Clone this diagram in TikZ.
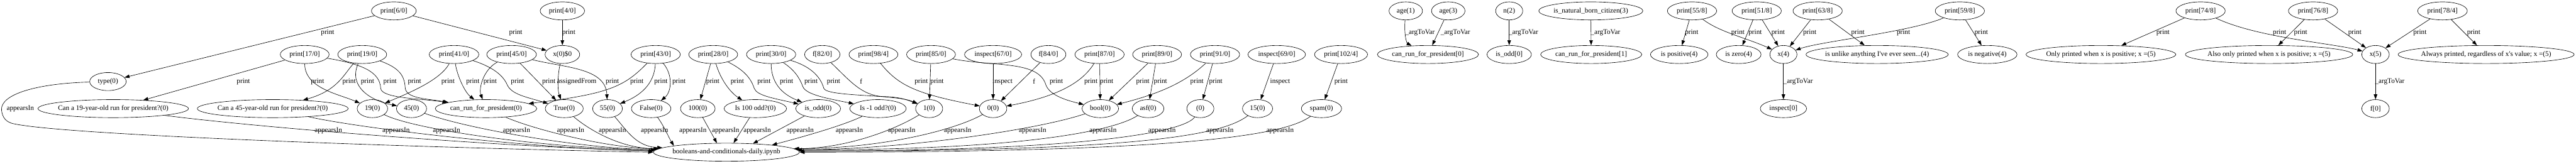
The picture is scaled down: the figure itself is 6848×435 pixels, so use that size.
\documentclass[tikz,border=0pt]{standalone}
\usepackage{fontspec}
\setmainfont{Liberation Serif}
\usetikzlibrary{arrows.meta,shapes.geometric}
\begin{document}
\begin{tikzpicture}[x=0.75pt,y=0.75pt,>={Triangle[length=10pt,width=7pt]},
  nd/.style={draw,ellipse,line width=0.8pt,minimum height=36pt,minimum width=#1*0.75pt,inner xsep=-30pt,inner ysep=0pt,font=\fontsize{14}{16}\selectfont},
  nd/.default=72,
  lb/.style={inner sep=0pt,font=\fontsize{14}{16}\selectfont},
  e/.style={->,line width=0.8pt}]
\useasboundingbox (0,0) rectangle (6848,-435);
%Hang 1
\node[nd=119] (p6) at (1047,-29) {print[6/0]};
\node[nd=118] (p4) at (1495,-29) {print[4/0]};
\node[nd=89] (age1) at (3737,-29) {age(1)};
\node[nd=89] (age3) at (3850,-29) {age(3)};
\node[nd] (n2) at (4012,-29) {n(2)};
\node[nd=277] (nbc) at (4229,-29) {is\_natural\_born\_citizen(3)};
\node[nd=131] (p55) at (4498,-29) {print[55/8]};
\node[nd=131] (p51) at (4670,-29) {print[51/8]};
\node[nd=131] (p63) at (4832,-29) {print[63/8]};
\node[nd=131] (p59) at (5210,-29) {print[59/8]};
\node[nd=131] (p74) at (5850,-29) {print[74/8]};
\node[nd=131] (p76) at (6149,-29) {print[76/8]};
\node[nd=132] (p78) at (6493,-29) {print[78/4]};
%Hang 2
\node[nd=130] (p17) at (810,-145) {print[17/0]};
\node[nd=130] (p19) at (963,-145) {print[19/0]};
\node[nd=132] (p41) at (1207,-145) {print[41/0]};
\node[nd=132] (p45) at (1360,-145) {print[45/0]};
\node[nd=92] (x0) at (1495,-145) {x(0)\$0};
\node[nd=131] (p43) at (1743,-145) {print[43/0]};
\node[nd=130] (p28) at (1896,-145) {print[28/0]};
\node[nd=131] (p30) at (2050,-145) {print[30/0]};
\node[nd=94] (f82) at (2186,-145) {f[82/0]};
\node[nd=130] (p98) at (2322,-145) {print[98/4]};
\node[nd=130] (p85) at (2475,-145) {print[85/0]};
\node[nd=152] (i67) at (2640,-145) {inspect[67/0]};
\node[nd=93] (f84) at (2787,-145) {f[84/0]};
\node[nd=131] (p87) at (2923,-145) {print[87/0]};
\node[nd=130] (p89) at (3076,-145) {print[89/0]};
\node[nd=131] (p91) at (3230,-145) {print[91/0]};
\node[nd=153] (i69) at (3394,-145) {inspect[69/0]};
\node[nd=141] (p102) at (3565,-145) {print[102/4]};
\node[nd=269] (crp0) at (3796,-145) {can\_run\_for\_president[0]};
\node[nd=118] (iso0) at (4012,-145) {is\_odd[0]};
\node[nd=269] (crp1) at (4230,-145) {can\_run\_for\_president[1]};
\node[nd=153] (ispos) at (4464,-145) {is positive(4)};
\node[nd=119] (iszero) at (4622,-145) {is zero(4)};
\node[nd] (x4) at (4741,-145) {x(4)};
\node[nd=378] (unlike) at (4990,-145) {is unlike anything I\textquotesingle ve ever seen...(4)};
\node[nd=158] (isneg) at (5283,-145) {is negative(4)};
\node[nd=398] (only) at (5585,-145) {Only printed when x is positive; x =(5)};
\node[nd=445] (also) at (6032,-145) {Also only printed when x is positive; x =(5)};
\node[nd=73] (x5) at (6315,-145) {x(5)};
\node[nd=468] (always) at (6609,-145) {Always printed, regardless of x\textquotesingle s value; x =(5)};
\node[nd=97] (type0) at (287,-217) {type(0)};
%Hang 3
\node[nd=400] (can19) at (301,-289) {Can a 19-year-old run for president?(0)};
\node[nd=401] (can45) at (725,-289) {Can a 45-year-old run for president?(0)};
\node[nd=81] (n19) at (990,-289) {19(0)};
\node[nd=80] (n45) at (1094,-289) {45(0)};
\node[nd=270] (crp) at (1292,-289) {can\_run\_for\_president(0)};
\node[nd=101] (true0) at (1500,-289) {True(0)};
\node[nd=79] (n55) at (1615,-289) {55(0)};
\node[nd=105] (false0) at (1731,-289) {False(0)};
\node[nd=92] (n100) at (1855,-289) {100(0)};
\node[nd=166] (odd100) at (2008,-289) {Is 100 odd?(0)};
\node[nd=119] (isodd) at (2175,-289) {is\_odd(0)};
\node[nd=150] (oddm1) at (2334,-289) {Is -1 odd?(0)};
\node[nd] (n1) at (2470,-289) {1(0)};
\node[nd=73] (n0) at (2640,-289) {0(0)};
\node[nd=97] (bool0) at (2925,-289) {bool(0)};
\node[nd=84] (asf) at (3052,-289) {asf(0)};
\node[nd] (empty) at (3191,-289) {(0)};
\node[nd=80] (n15) at (3343,-289) {15(0)};
\node[nd=107] (spam) at (3513,-289) {spam(0)};
\node[nd=123] (insp0) at (4741,-289) {inspect[0]};
\node[nd=73] (f0) at (6315,-289) {f[0]};
%Hang 4
\node[nd=388] (bools) at (1931,-405) {booleans-and-conditionals-daily.ipynb};
%Mui ten hang 1-2
\draw[e] (p6) -- (type0);
\draw[e] (p6) -- (x0);
\draw[e] (p4) -- (x0);
\draw[e] (age1) .. controls (3732,-95) and (3740,-115) .. (crp0);
\draw[e] (age3) -- (crp0);
\draw[e] (n2) -- (iso0);
\draw[e] (nbc) -- (crp1);
\draw[e] (p55) -- (ispos);
\draw[e] (p55) .. controls (4570,-85) and (4640,-100) .. (x4);
\draw[e] (p51) -- (iszero);
\draw[e] (p51) -- (x4);
\draw[e] (p63) -- (x4);
\draw[e] (p63) -- (unlike);
\draw[e] (p59) .. controls (5080,-85) and (4840,-110) .. (x4);
\draw[e] (p59) -- (isneg);
\draw[e] (p74) -- (only);
\draw[e] (p74) .. controls (6000,-100) and (6200,-115) .. (x5);
\draw[e] (p76) -- (also);
\draw[e] (p76) -- (x5);
\draw[e] (p78) -- (x5);
\draw[e] (p78) -- (always);
%Mui ten hang 2-3
\draw[e] (p17) -- (can19);
\draw[e] (p17) .. controls (810,-235) and (900,-250) .. (n19);
\draw[e] (p17) .. controls (960,-170) and (1010,-190) .. (1012,-235) .. controls (1014,-262) and (1120,-262) .. (crp);
\draw[e] (p19) .. controls (915,-195) and (900,-240) .. (can45);
\draw[e] (p19) .. controls (925,-230) and (985,-268) .. (n45);
\draw[e] (p19) .. controls (1060,-180) and (1075,-200) .. (1077,-232) .. controls (1078,-262) and (1130,-262) .. (crp);
\draw[e] (p41) .. controls (1170,-215) and (1080,-250) .. (n19);
\draw[e] (p41) .. controls (1215,-200) and (1235,-245) .. (crp);
\draw[e] (p41) .. controls (1300,-175) and (1335,-195) .. (1348,-225) .. controls (1360,-252) and (1400,-258) .. (true0);
\draw[e] (p45) .. controls (1285,-185) and (1272,-235) .. (crp);
\draw[e] (p45) -- (true0);
\draw[e] (p45) .. controls (1500,-180) and (1610,-180) .. (n55);
\draw[e] (x0) .. controls (1482,-200) and (1482,-240) .. (true0);
\draw[e] (p43) .. controls (1660,-230) and (1620,-250) .. (crp);
\draw[e] (p43) .. controls (1740,-225) and (1700,-255) .. (n55);
\draw[e] (p43) .. controls (1790,-200) and (1785,-245) .. (false0);
\draw[e] (p28) -- (n100);
\draw[e] (p28) .. controls (1915,-210) and (1940,-245) .. (odd100);
\draw[e] (p28) .. controls (1975,-185) and (1995,-205) .. (2005,-235) .. controls (2012,-255) and (2060,-262) .. (isodd);
\draw[e] (p30) .. controls (2050,-230) and (2090,-255) .. (isodd);
\draw[e] (p30) .. controls (2110,-185) and (2125,-205) .. (2134,-230) .. controls (2142,-252) and (2200,-262) .. (oddm1);
\draw[e] (p30) .. controls (2150,-175) and (2180,-200) .. (2190,-235) .. controls (2198,-258) and (2380,-250) .. (n1);
\draw[e] (f82) .. controls (2260,-215) and (2290,-255) .. (2350,-257) .. controls (2390,-258) and (2410,-265) .. (n1);
\draw[e] (p98) .. controls (2390,-230) and (2440,-250) .. (n0);
\draw[e] (p85) -- (n1);
\draw[e] (p85) .. controls (2640,-178) and (2760,-160) .. (2780,-225) .. controls (2790,-255) and (2840,-268) .. (bool0);
\draw[e] (i67) -- (n0);
\draw[e] (f84) -- (n0);
\draw[e] (p87) .. controls (2880,-215) and (2820,-255) .. (n0);
\draw[e] (p87) -- (bool0);
\draw[e] (p89) -- (bool0);
\draw[e] (p89) -- (asf);
\draw[e] (p91) .. controls (3150,-220) and (3080,-250) .. (bool0);
\draw[e] (p91) -- (empty);
\draw[e] (i69) -- (n15);
\draw[e] (p102) -- (spam);
\draw[e] (x4) -- (insp0);
\draw[e] (x5) -- (f0);
%Mui ten hang 3-4
\draw[e] (type0) .. controls (100,-222) and (2,-250) .. (4,-292) .. controls (6,-312) and (15,-326) .. (40,-330) .. controls (200,-362) and (1200,-395) .. (bools.180);
\draw[e] (can19) .. controls (650,-335) and (1300,-390) .. (bools.179);
\draw[e] (can45) .. controls (950,-340) and (1400,-395) .. (bools.179);
\draw[e] (n19) .. controls (1100,-345) and (1450,-395) .. (bools.178);
\draw[e] (n45) .. controls (1250,-345) and (1550,-395) .. (bools.178);
\draw[e] (crp) .. controls (1420,-345) and (1620,-395) .. (bools.177);
\draw[e] (true0) .. controls (1565,-345) and (1650,-395) .. (bools.177);
\draw[e] (n55) .. controls (1665,-345) and (1690,-390) .. (bools.176);
\draw[e] (false0) .. controls (1765,-335) and (1780,-370) .. (bools.173);
\draw[e] (n100) -- (bools.136);
\draw[e] (odd100) -- (bools.52);
\draw[e] (isodd) -- (bools.18);
\draw[e] (oddm1) .. controls (2240,-335) and (2120,-368) .. (bools.9);
\draw[e] (n1) .. controls (2380,-345) and (2250,-395) .. (bools.3);
\draw[e] (n0) .. controls (2540,-345) and (2350,-395) .. (bools.3);
\draw[e] (bool0) .. controls (2760,-345) and (2400,-398) .. (bools.2);
\draw[e] (asf) .. controls (2960,-350) and (2700,-400) .. (bools.2);
\draw[e] (empty) .. controls (3150,-350) and (2900,-402) .. (bools.1);
\draw[e] (n15) .. controls (3260,-350) and (3100,-404) .. (bools.1);
\draw[e] (spam) .. controls (3420,-355) and (3200,-405) .. (bools.0);
%Nhan hang 1-2
\node[lb] (lp1) at (871,-87) {print};
\node[lb] (lp2) at (1371,-87) {print};
\node[lb] (lp3) at (1512,-87) {print};
\node[lb] (la1) at (3775,-87) {\_argToVar};
\node[lb] (la2) at (3869,-87) {\_argToVar};
\node[lb] (la3) at (4050,-87) {\_argToVar};
\node[lb] (la4) at (4268,-87) {\_argToVar};
\node[lb] (lp4) at (4497,-87) {print};
\node[lb] (lp5) at (4620,-87) {print};
\node[lb] (lp6) at (4666,-87) {print};
\node[lb] (lp7) at (4727,-87) {print};
\node[lb] (lp8) at (4811,-87) {print};
\node[lb] (lp9) at (4939,-87) {print};
\node[lb] (lp10) at (5060,-87) {print};
\node[lb] (lp11) at (5267,-87) {print};
\node[lb] (lp12) at (5750,-87) {print};
\node[lb] (lp13) at (6060,-87) {print};
\node[lb] (lp14) at (6116,-87) {print};
\node[lb] (lp15) at (6260,-87) {print};
\node[lb] (lp16) at (6433,-87) {print};
\node[lb] (lp17) at (6576,-87) {print};
%Nhan hang 2-3
\node[lb] (lq1) at (647,-217) {print};
\node[lb] (lq2) at (844,-217) {print};
\node[lb] (lq3) at (928,-217) {print};
\node[lb] (lq4) at (977,-217) {print};
\node[lb] (lq5) at (1037,-217) {print};
\node[lb] (lq6) at (1102,-217) {print};
\node[lb] (lq7) at (1191,-217) {print};
\node[lb] (lq8) at (1257,-217) {print};
\node[lb] (lq9) at (1303,-217) {print};
\node[lb] (lq10) at (1376,-217) {print};
\node[lb] (lq11) at (1459,-217) {print};
\node[lb] (lasg) at (1533,-217) {assignedFrom};
\node[lb] (lq12) at (1628,-217) {print};
\node[lb] (lq13) at (1693,-217) {print};
\node[lb] (lq14) at (1757,-217) {print};
\node[lb] (lq15) at (1805,-217) {print};
\node[lb] (lq16) at (1895,-217) {print};
\node[lb] (lq17) at (1960,-217) {print};
\node[lb] (lq18) at (2031,-217) {print};
\node[lb] (lq19) at (2091,-217) {print};
\node[lb] (lq20) at (2156,-217) {print};
\node[lb] (lq21) at (2216,-217) {print};
\node[lb] (lf1) at (2289,-217) {f};
\node[lb] (lq22) at (2449,-217) {print};
\node[lb] (lq23) at (2491,-217) {print};
\node[lb] (li1) at (2665,-217) {inspect};
\node[lb] (lf2) at (2749,-217) {f};
\node[lb] (lq24) at (2808,-217) {print};
\node[lb] (lq25) at (2900,-217) {print};
\node[lb] (lq26) at (2942,-217) {print};
\node[lb] (lq27) at (3038,-217) {print};
\node[lb] (lq28) at (3085,-217) {print};
\node[lb] (lq29) at (3182,-217) {print};
\node[lb] (lq30) at (3232,-217) {print};
\node[lb] (li2) at (3403,-217) {inspect};
\node[lb] (lq31) at (3565,-217) {print};
\node[lb] (la5) at (4780,-217) {\_argToVar};
\node[lb] (la6) at (6353,-217) {\_argToVar};
%Nhan hang 3-4
\node[lb] (lr0) at (54,-289) {appearsIn};
\node[lb] (lr1) at (873,-347) {appearsIn};
\node[lb] (lr2) at (1053,-347) {appearsIn};
\node[lb] (lr3) at (1187,-347) {appearsIn};
\node[lb] (lr4) at (1373,-347) {appearsIn};
\node[lb] (lr5) at (1517,-347) {appearsIn};
\node[lb] (lr6) at (1628,-347) {appearsIn};
\node[lb] (lr7) at (1740,-347) {appearsIn};
\node[lb] (lr8) at (1842,-347) {appearsIn};
\node[lb] (lr9) at (1929,-347) {appearsIn};
\node[lb] (lr10) at (2013,-347) {appearsIn};
\node[lb] (lr11) at (2127,-347) {appearsIn};
\node[lb] (lr12) at (2258,-347) {appearsIn};
\node[lb] (lr13) at (2397,-347) {appearsIn};
\node[lb] (lr14) at (2546,-347) {appearsIn};
\node[lb] (lr15) at (2745,-347) {appearsIn};
\node[lb] (lr16) at (2932,-347) {appearsIn};
\node[lb] (lr17) at (3089,-347) {appearsIn};
\node[lb] (lr18) at (3243,-347) {appearsIn};
\node[lb] (lr19) at (3403,-347) {appearsIn};
\end{tikzpicture}
\end{document}
